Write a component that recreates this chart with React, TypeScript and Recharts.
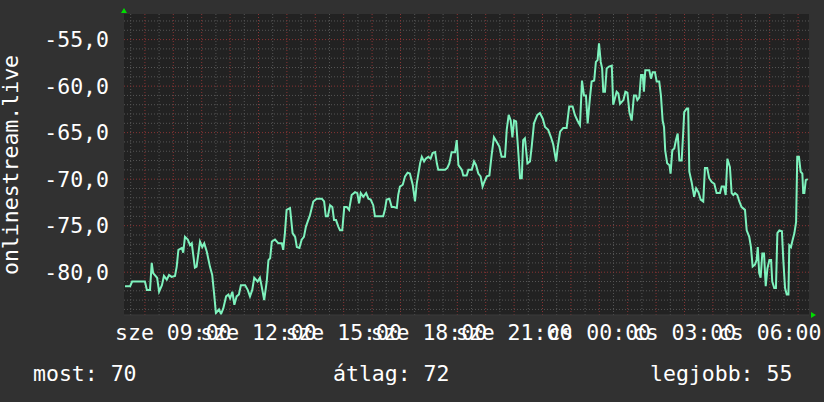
import React from "react";
import { LineChart, Line, XAxis, YAxis, CartesianGrid, ReferenceDot } from "recharts";

// hours since sze 00:00
const TIMES = [
  7.30, 7.48, 7.55, 8.00, 8.07, 8.18, 8.24, 8.29, 8.43, 8.50, 8.60, 8.67, 8.77, 8.85, 8.94, 9.06,
  9.12, 9.18, 9.30, 9.35, 9.41, 9.51, 9.59, 9.65, 9.76, 9.82, 9.94, 10.02, 10.09, 10.18, 10.29, 10.37,
  10.44, 10.50, 10.61, 10.68, 10.76, 10.86, 10.94, 11.00, 11.08, 11.15, 11.23, 11.31, 11.38, 11.53, 11.62, 11.70,
  11.78, 11.85, 11.97, 12.05, 12.11, 12.20, 12.29, 12.35, 12.41, 12.47, 12.58, 12.70, 12.82, 12.87, 12.93, 12.99,
  13.11, 13.20, 13.29, 13.35, 13.44, 13.52, 13.60, 13.67, 13.75, 13.81, 13.93, 14.05, 14.23, 14.31, 14.37, 14.44,
  14.52, 14.60, 14.66, 14.73, 14.81, 14.87, 14.95, 15.02, 15.11, 15.19, 15.28, 15.40, 15.48, 15.54, 15.60, 15.69,
  15.79, 15.87, 15.95, 16.04, 16.10, 16.39, 16.45, 16.51, 16.61, 16.69, 16.77, 16.87, 16.92, 16.98, 17.08, 17.16,
  17.25, 17.33, 17.43, 17.51, 17.57, 17.63, 17.69, 17.75, 17.83, 17.89, 17.98, 18.06, 18.13, 18.22, 18.28, 18.33,
  18.57, 18.65, 18.72, 18.80, 18.92, 18.98, 19.04, 19.16, 19.21, 19.33, 19.39, 19.51, 19.59, 19.66, 19.74, 19.82,
  19.89, 19.95, 20.04, 20.13, 20.21, 20.29, 20.39, 20.48, 20.56, 20.68, 20.74, 20.81, 20.88, 20.94, 21.00, 21.07,
  21.13, 21.21, 21.27, 21.32, 21.38, 21.47, 21.56, 21.62, 21.70, 21.82, 21.91, 22.01, 22.09, 22.20, 22.30, 22.38,
  22.48, 22.54, 22.62, 22.73, 22.85, 22.94, 23.06, 23.14, 23.23, 23.32, 23.39, 23.46, 23.53, 23.59, 23.67, 23.73,
  23.82, 23.88, 23.94, 23.99, 24.05, 24.10, 24.14, 24.20, 24.26, 24.34, 24.44, 24.49, 24.55, 24.61, 24.67, 24.73,
  24.85, 24.92, 24.99, 25.06, 25.14, 25.22, 25.29, 25.34, 25.41, 25.47, 25.53, 25.57, 25.62, 25.76, 25.82, 25.88,
  25.96, 26.02, 26.11, 26.17, 26.23, 26.28, 26.32, 26.39, 26.47, 26.51, 26.57, 26.64, 26.70, 26.76, 26.82, 26.90,
  26.96, 26.99, 27.08, 27.13, 27.17, 27.25, 27.34, 27.41, 27.49, 27.57, 27.66, 27.72, 27.80, 27.87, 27.96, 28.05,
  28.13, 28.25, 28.31, 28.39, 28.45, 28.51, 28.60, 28.66, 28.72, 28.78, 28.86, 28.93, 29.01, 29.13, 29.19, 29.28,
  29.34, 29.40, 29.48, 29.54, 29.58, 29.63, 29.68, 29.74, 29.80, 29.86, 29.92, 29.99, 30.05, 30.09, 30.16, 30.22,
  30.27, 30.34, 30.43, 30.48, 30.54, 30.60, 30.66, 30.69, 30.75, 30.81, 30.87, 30.93, 30.97, 31.03, 31.09, 31.15,
  31.18, 31.22, 31.27, 31.34,
];

const VALUES = [
  -81.5, -81.5, -81.0, -81.0, -81.9, -81.9, -79.0, -80.1, -80.6, -82.1, -81.4, -80.4, -80.8, -80.3, -80.5, -80.4,
  -79.4, -77.6, -77.4, -77.9, -76.2, -76.5, -77.1, -76.9, -79.5, -79.4, -76.7, -77.3, -76.9, -77.8, -79.4, -80.3,
  -82.4, -84.4, -84.0, -84.5, -83.9, -82.6, -82.4, -82.8, -82.1, -83.5, -82.6, -82.4, -81.4, -81.4, -81.9, -82.6,
  -81.9, -80.6, -81.0, -80.6, -81.5, -83.0, -81.0, -78.7, -78.5, -76.7, -76.5, -76.9, -76.9, -77.6, -75.8, -73.3,
  -73.1, -75.8, -76.2, -77.3, -77.4, -76.5, -76.2, -75.1, -74.4, -73.9, -72.4, -72.1, -72.1, -72.4, -74.0, -74.0,
  -72.8, -73.0, -74.4, -74.4, -75.1, -75.5, -75.5, -73.0, -73.0, -73.3, -71.7, -71.4, -71.5, -72.6, -71.5, -71.9,
  -71.5, -72.1, -72.2, -72.8, -74.0, -74.0, -73.3, -72.2, -72.1, -73.0, -73.0, -73.1, -71.7, -70.8, -70.6, -69.7,
  -69.3, -69.4, -70.6, -72.4, -70.5, -69.4, -68.3, -67.6, -68.1, -67.8, -67.6, -67.8, -67.2, -67.1, -68.3, -69.0,
  -69.0, -68.8, -68.3, -67.1, -67.1, -65.8, -68.5, -69.0, -69.6, -69.6, -69.0, -69.0, -68.1, -68.5, -69.4, -69.7,
  -70.8, -70.3, -69.7, -69.6, -67.4, -65.5, -66.0, -66.5, -67.6, -67.6, -64.7, -63.1, -63.7, -65.5, -63.7, -63.8,
  -66.3, -69.9, -69.9, -65.8, -65.6, -68.3, -68.1, -66.5, -64.0, -63.1, -62.9, -63.5, -64.4, -64.7, -65.5, -66.3,
  -68.1, -66.5, -64.9, -64.5, -64.5, -62.2, -62.2, -63.1, -63.7, -64.2, -59.4, -61.0, -61.0, -64.0, -61.3, -59.5,
  -59.4, -57.4, -57.2, -55.4, -57.4, -58.1, -60.6, -60.6, -58.1, -57.9, -57.8, -62.0, -61.3, -60.6, -60.8, -61.9,
  -61.5, -60.6, -60.7, -62.8, -63.7, -61.0, -61.0, -61.5, -61.2, -58.8, -58.8, -60.6, -58.3, -58.3, -59.2, -58.5,
  -58.5, -59.5, -59.5, -61.0, -63.7, -64.4, -66.9, -68.3, -68.5, -69.4, -66.9, -66.7, -65.8, -65.1, -68.0, -68.0,
  -64.7, -62.8, -62.4, -62.4, -69.2, -70.3, -71.9, -71.0, -71.4, -72.2, -72.4, -68.8, -68.8, -69.9, -70.3, -70.5,
  -71.5, -71.5, -70.8, -70.8, -71.7, -67.8, -68.7, -71.5, -71.7, -71.5, -71.7, -72.4, -73.0, -73.3, -75.5, -76.2,
  -77.3, -79.4, -79.2, -78.7, -77.3, -80.1, -80.6, -78.0, -78.0, -81.5, -79.6, -78.7, -78.7, -81.0, -81.7, -81.7,
  -75.8, -75.5, -75.6, -78.7, -81.7, -82.4, -82.4, -77.1, -77.3, -76.5, -75.8, -74.6, -67.6, -67.6, -69.2, -69.4,
  -71.5, -71.5, -70.1, -70.0,
];

const X_DOMAIN = [7.264, 31.384];
const Y_DOMAIN = [-84.6, -52.25];
const X_TICKS = [9, 12, 15, 18, 21, 24, 27, 30];
const X_LABELS = ["sze 09:00", "sze 12:00", "sze 15:00", "sze 18:00", "sze 21:00", "cs 00:00", "cs 03:00", "cs 06:00"];
const Y_TICKS = [-80, -75, -70, -65, -60, -55];
const SERIES_NAME = "onlinestream.live";
const SUMMARY_LABELS = ["most", "átlag", "legjobb"];
const SUMMARY_VALUES = [70, 72, 55];

const W = 824;
const H = 402;
const FONT = "'DejaVu Sans Mono', monospace";
const FONT_SIZE = 21.5;
const BG = "#313131";

const data = TIMES.map((t, i) => ({ t, v: VALUES[i] }));

// grid: minor every half hour / 1 unit, major every hour / 5 units
const minorX: number[] = [];
const majorX: number[] = [];
for (let h = 7.5; h < X_DOMAIN[1]; h += 0.5) {
  if (h % 1 === 0) majorX.push(h);
  else minorX.push(h);
}
const minorY: number[] = [];
const majorY: number[] = [];
for (let y = -84; y <= -53; y++) {
  if (y % 5 === 0) majorY.push(y);
  else minorY.push(y);
}

const XTick = (props: any) => {
  const { x, y, payload } = props;
  const idx = X_TICKS.indexOf(payload.value);
  return (
    <text x={x} y={y} dy="0.71em" textAnchor="middle" fill="#ffffff" fontFamily={FONT} fontSize={FONT_SIZE}>
      {X_LABELS[idx]}
    </text>
  );
};

const YTick = (props: any) => {
  const { x, y, payload } = props;
  return (
    <text x={x} y={y} dy="0.36em" textAnchor="end" fill="#ffffff" fontFamily={FONT} fontSize={FONT_SIZE}>
      {payload.value.toFixed(1).replace(".", ",")}
    </text>
  );
};

const upArrow = (p: any) => (
  <polygon points={`${p.cx - 3},${p.cy - 1} ${p.cx + 3},${p.cy - 1} ${p.cx},${p.cy - 6}`} fill="#00dd00" />
);
const rightArrow = (p: any) => (
  <polygon points={`${p.cx + 2},${p.cy - 3} ${p.cx + 2},${p.cy + 3} ${p.cx + 7},${p.cy}`} fill="#00dd00" />
);

export default function App() {
  return (
    <div style={{ position: "fixed", left: 0, top: 0, width: W, height: H, background: BG }}>
      <LineChart width={W} height={H} data={data} margin={{ top: 14, right: 15, bottom: 57, left: 0 }}>
        <CartesianGrid
          fill="#222222"
          stroke="#555555"
          strokeDasharray="1 2"
          horizontalValues={minorY}
          verticalValues={minorX}
        />
        <CartesianGrid
          stroke="#8a3434"
          strokeDasharray="1 2"
          horizontalValues={majorY}
          verticalValues={majorX}
        />
        <XAxis
          dataKey="t"
          type="number"
          domain={X_DOMAIN}
          ticks={X_TICKS}
          allowDataOverflow
          interval={0}
          height={30}
          tickSize={0}
          tickMargin={10}
          axisLine={{ stroke: "#3a3a3a" }}
          tick={<XTick />}
        />
        <YAxis
          type="number"
          domain={Y_DOMAIN}
          ticks={Y_TICKS}
          allowDataOverflow
          interval={0}
          width={124}
          tickSize={0}
          tickMargin={15}
          axisLine={false}
          tick={<YTick />}
        />
        <Line
          type="linear"
          dataKey="v"
          stroke="#7ef2bd"
          strokeWidth={2}
          dot={false}
          isAnimationActive={false}
        />
        <ReferenceDot x={X_DOMAIN[0]} y={Y_DOMAIN[1]} ifOverflow="visible" shape={upArrow} />
        <ReferenceDot x={X_DOMAIN[1]} y={Y_DOMAIN[0]} ifOverflow="visible" shape={rightArrow} />
      </LineChart>
      <svg width={W} height={H} style={{ position: "absolute", left: 0, top: 0, pointerEvents: "none" }}>
        <text
          transform="translate(18,165) rotate(-90)"
          textAnchor="middle"
          fill="#ffffff"
          fontFamily={FONT}
          fontSize={FONT_SIZE}
        >
          {SERIES_NAME}
        </text>
        {SUMMARY_LABELS.map((label, i) => (
          <text
            key={label}
            x={[33, 333, 650][i]}
            y={381}
            fill="#ffffff"
            fontFamily={FONT}
            fontSize={FONT_SIZE}
          >
            {`${label}: ${SUMMARY_VALUES[i]}`}
          </text>
        ))}
      </svg>
    </div>
  );
}
